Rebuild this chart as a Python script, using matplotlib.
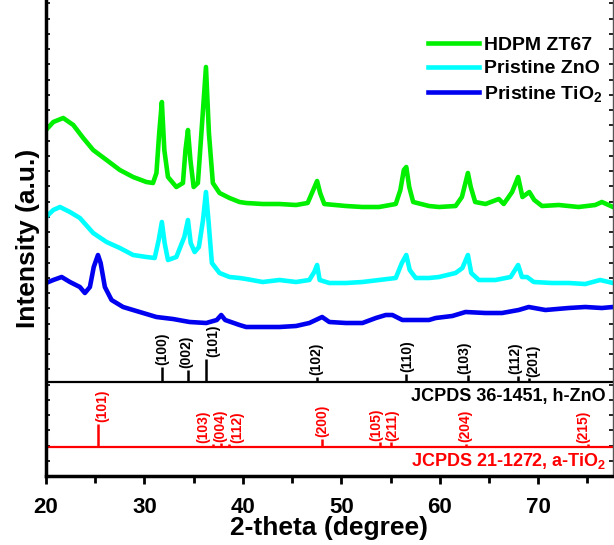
import numpy as np
import matplotlib
matplotlib.use("Agg")
import matplotlib.pyplot as plt
from matplotlib.ticker import MultipleLocator

plt.rcParams['font.family'] = ['Liberation Sans', 'DejaVu Sans']
plt.rcParams['font.weight'] = 'bold'
plt.rcParams['axes.labelweight'] = 'bold'
plt.rcParams['mathtext.fontset'] = 'custom'
plt.rcParams['mathtext.rm'] = 'Liberation Sans:bold'
plt.rcParams['mathtext.default'] = 'rm'

# XRD patterns: (2-theta, intensity a.u.)
hdpm_zt67 = np.array([
    (20.0, 346), (20.74, 354), (21.75, 358), (22.77, 351), (23.78, 338), (24.79, 326),
    (26.15, 316), (27.50, 306), (28.85, 299), (30.20, 294), (30.87, 293), (31.22, 303),
    (31.50, 343), (31.77, 374), (32.02, 326), (32.39, 299), (33.24, 289), (33.91, 293),
    (34.17, 326), (34.42, 346), (34.67, 316), (35.00, 289), (35.43, 293), (35.90, 359),
    (36.25, 409), (36.55, 343), (36.95, 293), (37.63, 283), (38.64, 278), (39.66, 274),
    (40.33, 273), (42.02, 272), (43.71, 272), (45.40, 271), (46.58, 273), (47.15, 286),
    (47.54, 295), (47.85, 283), (48.27, 272), (50.47, 270), (52.15, 269), (53.84, 269),
    (55.53, 272), (56.00, 286), (56.35, 306), (56.60, 309), (56.90, 289), (57.30, 274),
    (58.91, 270), (59.92, 269), (61.61, 270), (62.25, 279), (62.86, 303), (63.15, 289),
    (63.60, 274), (64.65, 272), (66.00, 277), (66.50, 272), (67.35, 284), (67.96, 299),
    (68.40, 279), (69.10, 284), (69.60, 276), (70.39, 270), (72.08, 271), (74.10, 269),
    (75.80, 271), (76.47, 274), (77.6, 269)])

pristine_zno = np.array([
    (20.0, 259), (20.74, 266), (21.42, 269), (22.43, 264), (23.44, 258), (24.79, 243),
    (26.15, 234), (27.50, 228), (28.85, 221), (30.20, 219), (31.04, 218), (31.45, 236),
    (31.77, 254), (32.05, 233), (32.39, 216), (33.24, 219), (34.05, 239), (34.42, 256),
    (34.70, 233), (35.10, 224), (35.53, 229), (35.95, 256), (36.25, 284), (36.50, 256),
    (36.85, 213), (37.63, 203), (38.64, 199), (39.66, 198), (40.33, 197), (42.02, 194),
    (43.71, 196), (45.40, 194), (46.75, 196), (47.25, 204), (47.54, 211), (47.80, 196),
    (48.78, 193), (50.47, 193), (52.15, 194), (53.84, 196), (55.53, 198), (56.15, 213),
    (56.60, 221), (56.95, 206), (57.56, 198), (58.91, 198), (59.92, 199), (61.61, 203),
    (62.30, 208), (62.86, 221), (63.20, 203), (63.97, 196), (65.66, 196), (67.20, 199),
    (67.96, 211), (68.35, 199), (68.87, 199), (69.55, 194), (71.40, 193), (73.09, 193),
    (74.78, 192), (76.30, 196), (77.6, 193)])

pristine_tio2 = np.array([
    (20.0, 193), (20.74, 196), (21.59, 199), (22.43, 194), (23.44, 189), (23.95, 183),
    (24.46, 189), (24.85, 209), (25.28, 221), (25.55, 213), (25.98, 189), (26.66, 176),
    (27.83, 169), (29.52, 164), (31.22, 159), (32.90, 157), (34.59, 154), (36.28, 153),
    (37.35, 156), (37.80, 161), (38.20, 156), (39.66, 151), (40.33, 149), (42.02, 149),
    (43.71, 149), (45.40, 150), (46.75, 153), (48.05, 159), (48.78, 154), (50.47, 153),
    (52.15, 153), (53.51, 158), (54.52, 161), (55.19, 161), (56.20, 156), (57.56, 156),
    (58.91, 156), (59.59, 158), (61.27, 160), (62.62, 164), (64.65, 163), (66.33, 163),
    (68.02, 166), (69.04, 169), (70.73, 166), (73.09, 168), (74.78, 169), (76.47, 168),
    (77.6, 169)])

# JCPDS 36-1451 (h-ZnO) reference lines
zno_pos = [31.77, 34.42, 36.25, 47.54, 56.60, 62.86, 66.38, 67.96, 69.10, 72.56, 76.95]
zno_int = [65, 52, 100, 22, 35, 30, 6, 26, 17, 4, 6]
zno_hkl = ['(100)', '(002)', '(101)', '(102)', '(110)', '(103)', '', '(112)', '(201)', '', '']
zno_lab_dx = [0.0, -0.15, 0.75, -0.1, 0.05, -0.35, 0, -0.3, 0.4, 0, 0]

# JCPDS 21-1272 (a-TiO2) reference lines
tio2_pos = [25.28, 36.95, 37.80, 38.58, 48.05, 53.89, 55.06, 62.69, 68.76, 70.31, 75.03, 76.02]
tio2_int = [100, 11, 17, 11, 35, 20, 20, 13, 6, 6, 11, 4]
tio2_hkl = ['(101)', '(103)', '(004)', '(112)', '(200)', '(105)', '(211)', '(204)', '', '', '(215)', '']
tio2_lab_dx = [0.4, -0.95, -0.1, 0.85, 0.0, -0.35, 0.15, -0.1, 0, 0, -0.5, 0]

zno_base = 94     # black reference baseline
tio2_base = 29    # red reference baseline
stick_scale = 0.233

fig = plt.figure(figsize=(6.14, 5.45), dpi=100)
ax = fig.add_axes([46 / 614, 69 / 545, 567 / 614, 476 / 545])

ax.plot(hdpm_zt67[:, 0], hdpm_zt67[:, 1], color='#00F000', lw=3.3, label='HDPM ZT67')
ax.plot(pristine_zno[:, 0], pristine_zno[:, 1], color='#00FFFF', lw=3.3, label='Pristine ZnO')
ax.plot(pristine_tio2[:, 0], pristine_tio2[:, 1], color='#0000F0', lw=3.3, label='Pristine TiO$_2$')

ax.axhline(zno_base, color='black', lw=1.6)
ax.axhline(tio2_base, color='red', lw=1.6)

for x, i, hkl, dx in zip(zno_pos, zno_int, zno_hkl, zno_lab_dx):
    top = zno_base + i * stick_scale
    ax.vlines(x, zno_base, top, color='black', lw=1.8)
    if hkl:
        ax.text(x + dx, top + 1.5, hkl, rotation=90, ha='center', va='bottom',
                fontsize=10, fontweight='bold', color='black')

for x, i, hkl, dx in zip(tio2_pos, tio2_int, tio2_hkl, tio2_lab_dx):
    top = tio2_base + i * stick_scale
    ax.vlines(x, tio2_base, top, color='red', lw=1.8)
    if hkl:
        ax.text(x + dx, top + 1.5, hkl, rotation=90, ha='center', va='bottom',
                fontsize=10, fontweight='bold', color='red')

ax.text(76.9, 79, 'JCPDS 36-1451, h-ZnO', ha='right', va='center', fontsize=13,
        fontweight='bold', color='black')
ax.text(76.9, 15, 'JCPDS 21-1272, a-TiO$_2$', ha='right', va='center', fontsize=13,
        fontweight='bold', color='red')

ax.set_xlim(20, 77.6)
ax.set_ylim(0, 476)
ax.xaxis.set_major_locator(MultipleLocator(10))
ax.xaxis.set_minor_locator(MultipleLocator(5))
ax.yaxis.set_major_locator(MultipleLocator(15.25))
ax.tick_params(axis='x', which='both', direction='out', width=2, labelsize=16, pad=9)
ax.tick_params(axis='x', which='major', length=6)
ax.tick_params(axis='x', which='minor', length=5)
ax.tick_params(axis='y', which='both', direction='in', length=3, width=1.2,
               left=True, right=True, labelleft=False)

ax.spines['top'].set_visible(False)
ax.spines['left'].set_linewidth(2.5)
ax.spines['bottom'].set_linewidth(2.5)
ax.spines['right'].set_linewidth(1.0)
ax.spines['right'].set_color('#555555')

ax.set_xlabel('2-theta (degree)', fontsize=19, labelpad=-1)
ax.set_ylabel('Intensity (a.u.)', fontsize=19, labelpad=4)

ax.legend(loc='upper left', bbox_to_anchor=(428 / 614, 1 - 36 / 545),
          bbox_transform=fig.transFigure, frameon=False, fontsize=14,
          handlelength=2.6, handletextpad=0.3, labelspacing=0.32,
          borderpad=0, borderaxespad=0)

plt.savefig('out.png', dpi=100)
